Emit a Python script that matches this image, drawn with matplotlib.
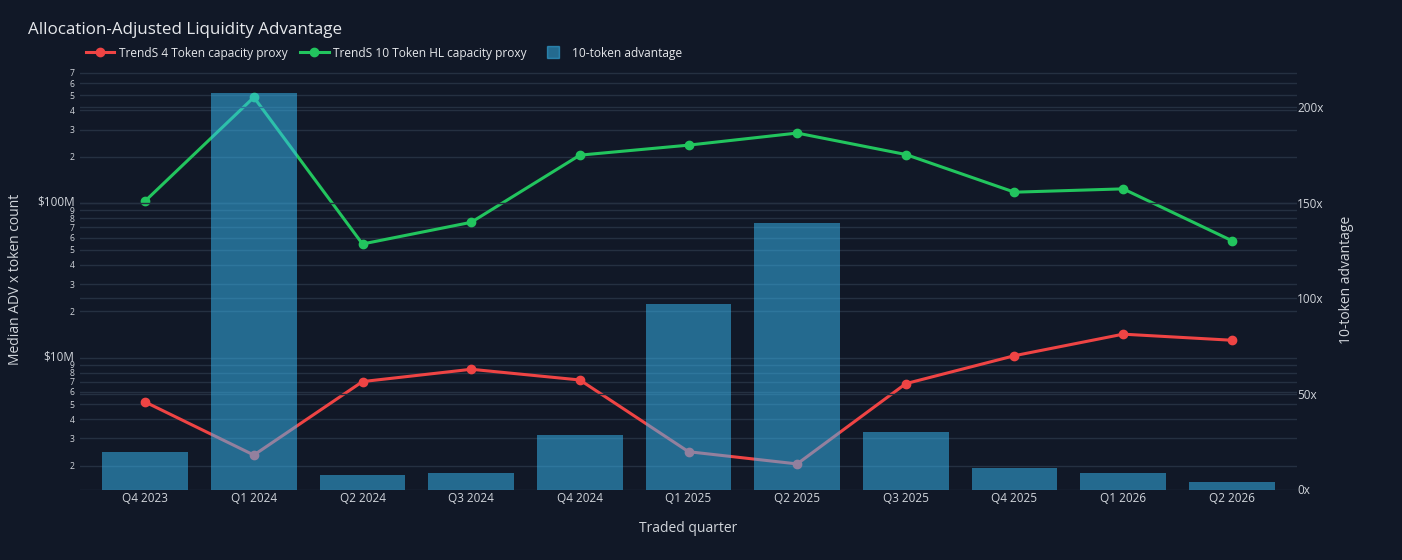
import matplotlib
matplotlib.use("Agg")
import matplotlib.pyplot as plt
import matplotlib.transforms as mtransforms
from matplotlib.ticker import LogLocator, FuncFormatter, FixedLocator
from matplotlib.lines import Line2D

# data
quarters = ["Q4 2023", "Q1 2024", "Q2 2024", "Q3 2024", "Q4 2024", "Q1 2025",
            "Q2 2025", "Q3 2025", "Q4 2025", "Q1 2026", "Q2 2026"]
proxy_4 = [5.16e6, 2.34e6, 7.0e6, 8.41e6, 7.17e6, 2.46e6, 2.05e6, 6.79e6, 10.3e6, 14.2e6, 12.97e6]
proxy_10 = [103.5e6, 486e6, 54.5e6, 75.3e6, 205e6, 238e6, 285e6, 207e6, 118e6, 124e6, 57.3e6]
advantage = [19.5, 207.3, 7.4, 8.5, 28.4, 97.1, 139.6, 30.1, 11.3, 8.5, 4.1]

bg = "#111827"
grid_c = "#253041"
text_c = "#d1d5db"
red = "#ef4444"
green = "#22c55e"
bar_c = "#38bdf8"

plt.rcParams["font.family"] = ["Open Sans", "DejaVu Sans"]

fig = plt.figure(figsize=(14.02, 5.6), dpi=100, facecolor=bg)
ax = fig.add_axes([80 / 1402, 1 - 489.5 / 560, (1297 - 80) / 1402, (489.5 - 70) / 560])
ax.set_facecolor(bg)
ax2 = ax.twinx()

x = list(range(len(quarters)))

ax.plot(x, proxy_4, color=red, lw=2.2, marker="o", ms=6, zorder=3)
ax.plot(x, proxy_10, color=green, lw=2.2, marker="o", ms=6, zorder=3)
ax2.bar(x, advantage, width=0.79, color=bar_c, alpha=0.5, zorder=3)

# left log axis
ax.set_yscale("log")
ax.set_ylim(1.40e6, 7.3e8)
ax.yaxis.set_major_locator(LogLocator(base=10, subs=(1.0,)))
ax.yaxis.set_minor_locator(LogLocator(base=10, subs=(2, 3, 4, 5, 6, 7, 8, 9)))

def major_fmt(v, pos):
    return "$%dM" % round(v / 1e6)

def minor_fmt(v, pos):
    return ("%.0e" % v)[0]

ax.yaxis.set_major_formatter(FuncFormatter(major_fmt))
ax.yaxis.set_minor_formatter(FuncFormatter(minor_fmt))
ax.tick_params(axis="y", which="major", labelsize=8.5, colors=text_c, length=0, pad=4)
ax.tick_params(axis="y", which="minor", labelsize=6.2, colors=text_c, length=0, pad=4)
# nudge the $ labels up a little so they sit clear of the small 9s
nudge = mtransforms.ScaledTranslation(0, 2.5 / 100, fig.dpi_scale_trans)
for t in ax.yaxis.get_major_ticks():
    t.label1.set_transform(t.label1.get_transform() + nudge)
ax.grid(True, which="both", axis="y", color=grid_c, lw=1, zorder=0)
ax.set_ylabel("Median ADV x token count", color=text_c, fontsize=10)
ax.yaxis.set_label_coords(-0.0468, 0.5)

# right linear axis
ax2.set_ylim(0, 219.5)
ax2.yaxis.set_major_locator(FixedLocator([0, 50, 100, 150, 200]))
ax2.yaxis.set_major_formatter(FuncFormatter(lambda v, p: "%dx" % v))
ax2.tick_params(axis="y", labelsize=8.5, colors=text_c, length=0, pad=0)
ax2.grid(True, axis="y", color=grid_c, lw=1)
ax2.set_ylabel("10-token advantage", color=text_c, fontsize=10, rotation=90)
ax2.yaxis.set_label_coords(1.0345, 0.5)

# x axis
ax.set_xlim(-0.6, 10.6)
ax.set_xticks(x)
ax.set_xticklabels(quarters)
ax.tick_params(axis="x", labelsize=8.5, colors=text_c, length=0, pad=2)
ax.set_xlabel("Traded quarter", color=text_c, fontsize=10, labelpad=11)

for a in (ax, ax2):
    for s in a.spines.values():
        s.set_visible(False)

fig.text(28 / 1402, 1 - 30 / 560, "Allocation-Adjusted Liquidity Advantage",
         color="#e5e7eb", fontsize=12.25, va="center", ha="left")

handles = [
    Line2D([0], [0], color=red, lw=2.2, marker="o", ms=6),
    Line2D([0], [0], color=green, lw=2.2, marker="o", ms=6),
    Line2D([0], [0], color=bar_c, alpha=0.5, lw=0, marker="s", ms=8),
]
labels = ["TrendS 4 Token capacity proxy", "TrendS 10 Token HL capacity proxy", "10-token advantage"]
fig.legend(handles, labels, loc="center left", bbox_to_anchor=(75 / 1402, 1 - 53 / 560),
           ncol=3, frameon=False, fontsize=8.6, labelcolor="#e5e7eb",
           handlelength=2.4, handletextpad=0.4, columnspacing=1.0)

fig.savefig("out.png", dpi=100, facecolor=bg)
